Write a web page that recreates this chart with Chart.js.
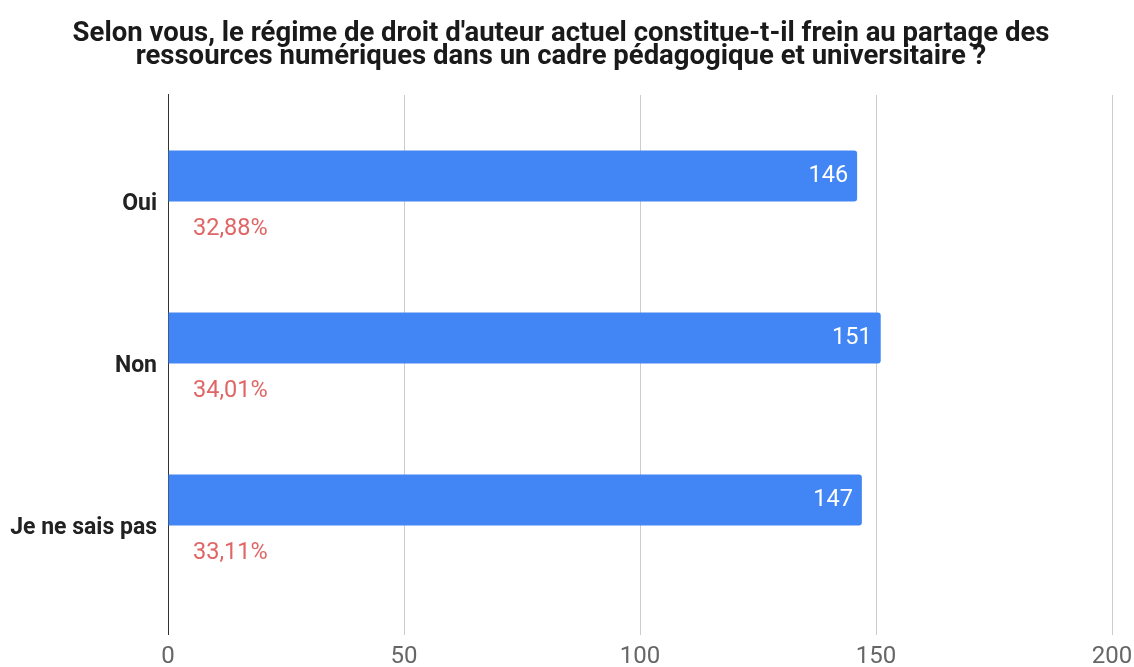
<!DOCTYPE html>
<html>
<head>
<meta charset="utf-8">
<script src="https://cdn.jsdelivr.net/npm/chart.js@4"></script>
<style>
    html, body { margin: 0; padding: 0; background: #fff; }
    #wrap { width: 1134px; height: 667px; }
</style>
</head>
<body>
<div id="wrap"><canvas id="droitChart"></canvas></div>
<script>
const categories = ["Oui", "Non", "Je ne sais pas"];
const responses = [146, 151, 147];
const percentages = ["32,88%", "34,01%", "33,11%"];
const xTicks = [0, 50, 100, 150, 200];

const titleLines = [
    "Selon vous, le régime de droit d'auteur actuel constitue-t-il frein au partage des",
    "ressources numériques dans un cadre pédagogique et universitaire ?",
];

// value inside the bar + percentage under it
const barLabels = {
    id: "barLabels",
    afterDatasetsDraw(chart) {
        const { ctx, chartArea } = chart;
        const bars = chart.getDatasetMeta(0).data;

        ctx.save();
        ctx.textBaseline = "middle";

        bars.forEach((bar, i) => {
            ctx.font = "23.5px Roboto";
            ctx.fillStyle = "#ffffff";
            ctx.textAlign = "right";
            ctx.fillText(String(responses[i]), bar.x - 9, bar.y);

            ctx.fillStyle = "#e06666";
            ctx.textAlign = "left";
            ctx.fillText(percentages[i], chartArea.left + 25, bar.y + bar.height / 2 + 28);
        });

        ctx.restore();
    },
};

new Chart(document.getElementById("droitChart"), {
    type: "bar",

    data: {
        labels: categories,

        datasets: [
            {
                data: responses,
                backgroundColor: "#4285f4",
                borderRadius: 3,
                borderSkipped: "start",
                categoryPercentage: 1,
                barPercentage: 0.315,
            },
        ],
    },

    plugins: [barLabels],

    options: {
        indexAxis: "y",
        responsive: true,
        maintainAspectRatio: false,
        animation: false,

        layout: {
            padding: { left: 0, right: 12, top: 0, bottom: 0 },
        },

        plugins: {
            legend: { display: false },
            tooltip: { enabled: false },

            title: {
                display: true,
                text: titleLines,
                color: "#1a1a1a",
                font: { family: "Roboto", size: 27.5, weight: "bold", lineHeight: 0.836 },
                padding: { top: 22.5, bottom: 26.5 },
            },
        },

        scales: {
            x: {
                min: 0,
                max: 200,
                afterBuildTicks: (scale) => {
                    scale.ticks = xTicks.map((v) => ({ value: v }));
                },
                afterFit: (scale) => {
                    scale.height = 86;
                    scale.paddingRight = 22;
                },

                grid: {
                    color: (c) => (c.tick && c.tick.value === 0 ? "#333" : "#cccccc"),
                    drawTicks: true,
                    tickLength: 54,
                },

                border: { display: false },

                ticks: {
                    color: "#666",
                    padding: 10,
                    font: { family: "Roboto", size: 24, lineHeight: 1 },
                },
            },

            y: {
                afterFit: (scale) => {
                    scale.width = 168;
                },

                grid: { display: false, drawTicks: false },

                border: { color: "#333", width: 1 },

                ticks: {
                    color: "#222",
                    padding: 11,
                    labelOffset: 28,
                    font: { family: "Roboto", size: 23, weight: "bold" },
                },
            },
        },
    },
});
</script>
</body>
</html>
